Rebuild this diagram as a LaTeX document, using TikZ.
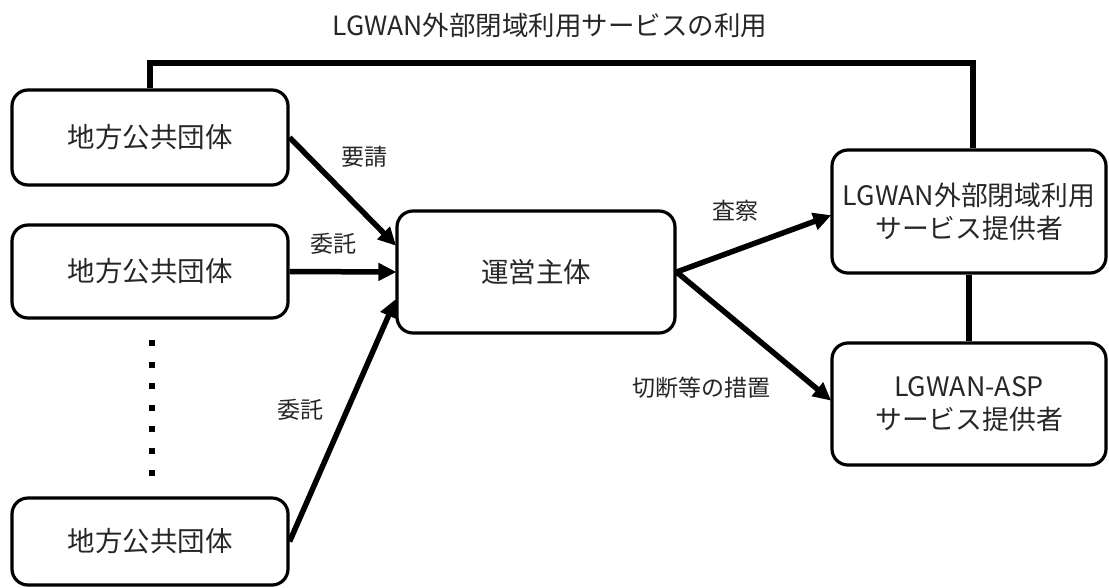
\documentclass[tikz,border=0pt]{standalone}
\usepackage{fontspec}
\setmainfont{Noto Sans CJK JP}
\usetikzlibrary{arrows.meta,calc}
\begin{document}
\begin{tikzpicture}[x=1pt,y=-1pt,
  box/.style={draw=black,line width=3.2pt,rounded corners=16pt,align=center,
    text=black!85,font=\fontsize{27.5}{34}\selectfont,inner sep=0pt},
  conn/.style={line width=5.5pt},
  arr/.style={line width=5.5pt,-{Triangle[length=18pt,width=17pt]},shorten >=-1pt},
  lbl/.style={text=black!85,font=\fontsize{23}{26}\selectfont,inner sep=0pt},
  dot/.style={fill=black,minimum size=6pt,inner sep=0pt}]
\useasboundingbox (0,0) rectangle (1109,587);
\node[lbl,font=\fontsize{26.5}{30}\selectfont] (title) at (550,25) {LGWAN外部閉域利用サービスの利用};
\node[box,minimum width=276pt,minimum height=95pt] (b1) at (150,137.5) {地方公共団体};
\node[box,minimum width=276pt,minimum height=93pt] (b2) at (150,271.5) {地方公共団体};
\node[box,minimum width=276pt,minimum height=87pt] (b3) at (150,541.5) {地方公共団体};
\node[box,minimum width=278pt,minimum height=122pt] (c) at (536,272) {運営主体};
\node[box,minimum width=274pt,minimum height=123pt,font=\fontsize{26.8}{33}\selectfont] (r1) at (969,211.5) {LGWAN外部閉域利用\\サービス提供者};
\node[box,minimum width=274pt,minimum height=122pt,font=\fontsize{26.8}{33}\selectfont] (r2) at (969,404) {LGWAN-ASP\\サービス提供者};
\foreach \i in {0,...,6} {
  \node[dot] (d\i) at (152,{343+\i*21.6}) {};
}
\coordinate (top) at (560,63);
\draw[conn] (b1.north) |- (top) -| ($(r1.north)+(4,0)$);
\draw[conn] (r1.south) -- (r2.north);
\draw[arr] (b1.east) -- ($(c.west)+(0,-27)$);
\draw[arr] (b2.east) -- (c.west);
\draw[arr] (b3.east) -- ($(c.west)+(0,28)$);
\draw[arr] (c.east) -- ($(r1.west)+(0,4)$);
\draw[arr] (c.east) -- ($(r2.west)+(0,-4)$);
\node[lbl] (l1) at (364,157) {要請};
\node[lbl] (l2) at (333,244) {委託};
\node[lbl] (l3) at (300,410) {委託};
\node[lbl] (l4) at (735,211) {査察};
\node[lbl] (l5) at (701,388) {切断等の措置};
\end{tikzpicture}
\end{document}
